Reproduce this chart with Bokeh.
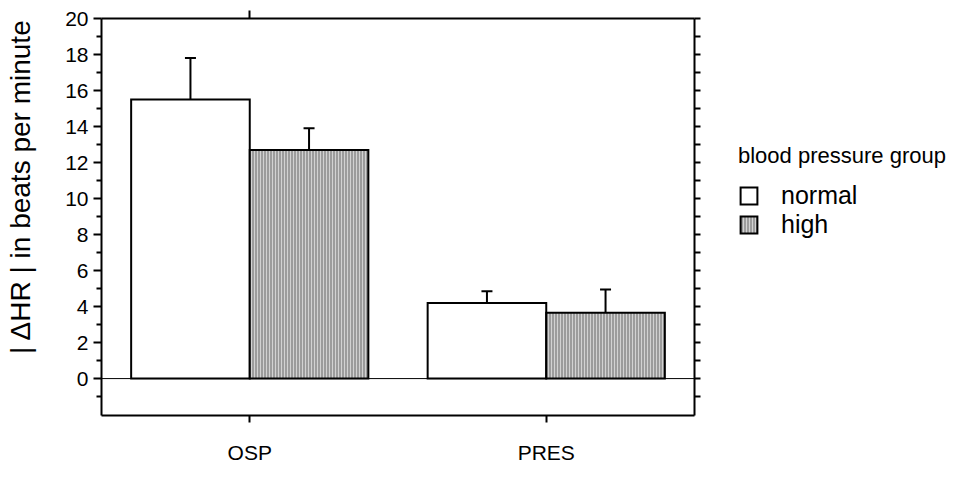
import math
from bokeh.plotting import figure
from bokeh.layouts import row
from bokeh.models import (ColumnDataSource, FixedTicker, LinearAxis, Range1d, Span,
                          Whisker, TeeHead, Legend, LegendItem, Label)
from bokeh.embed import file_html
from bokeh.resources import INLINE

# ---- data ----
categories = ["OSP", "PRES"]
cat_pos = [1, 2]
normal_mean = [15.5, 4.2]
normal_sem = [2.3, 0.65]
high_mean = [12.7, 3.65]
high_sem = [1.2, 1.3]
groups = ["normal", "high"]
y_major_ticks = [0, 2, 4, 6, 8, 10, 12, 14, 16, 18, 20]
y_minor_ticks = [-1, 1, 3, 5, 7, 9, 11, 13, 15, 17, 19]
right_ticks = [-1, 0, 1, 2, 3, 4, 5, 6, 7, 8, 9, 10, 11, 12, 13, 14, 15, 16, 17, 18, 19, 20]
y_title = "| ΔHR | in beats per minute"
legend_title = "blood pressure group"

FONT = "Liberation Sans"
BAR_W = 0.4
LBL_W = 45          # strip holding the y-axis title
MAIN_RIGHT = 714    # right edge of the main figure (page px)
TOTAL_W = 950
H = 466

normal_x = [c - BAR_W / 2 for c in cat_pos]
high_x = [c + BAR_W / 2 for c in cat_pos]

src_normal = ColumnDataSource(dict(x=normal_x, top=normal_mean,
                                   upper=[m + s for m, s in zip(normal_mean, normal_sem)]))
src_high = ColumnDataSource(dict(x=high_x, top=high_mean,
                                 upper=[m + s for m, s in zip(high_mean, high_sem)]))

normal_style = dict(fill_color="white", line_color="black", line_width=2, line_join="miter")
high_style = dict(fill_color="#9c9c9c", line_color="black", line_width=2, line_join="miter",
                  hatch_pattern="|", hatch_color="white", hatch_scale=3, hatch_weight=1,
                  hatch_alpha=0.55)


def bare_fig(width, xr, yr, **kw):
    f = figure(width=width, height=H, x_range=xr, y_range=yr,
               output_backend="svg", toolbar_location=None,
               x_axis_location=None, y_axis_location=None, **kw)
    f.outline_line_color = None
    f.grid.visible = False
    return f


# ---- y-axis title strip ----
lbl = bare_fig(LBL_W, Range1d(0, LBL_W), Range1d(H, 0),
               min_border_left=0, min_border_right=0, min_border_top=0, min_border_bottom=0)
lbl.add_layout(Label(x=20, y=197, text=y_title, angle=math.pi / 2,
                     text_align="center", text_baseline="middle",
                     text_font=FONT, text_font_size="28px", text_color="black"))

# ---- main plot ----
p = bare_fig(MAIN_RIGHT - LBL_W, Range1d(0.5, 2.5), Range1d(-2.05, 20),
             min_border_left=101 - LBL_W, min_border_right=MAIN_RIGHT - 694,
             min_border_top=18, min_border_bottom=H - 415)


def style_axis(ax):
    ax.axis_line_width = 2
    ax.axis_line_color = "black"
    ax.major_tick_line_width = 2
    ax.minor_tick_line_width = 2
    ax.major_tick_in = 0
    ax.minor_tick_in = 0
    ax.major_label_text_font = FONT
    ax.major_label_text_font_size = "21px"
    ax.major_label_text_color = "black"


def hide_labels(ax):
    ax.major_label_text_color = None
    ax.major_label_text_font_size = "1px"
    ax.major_label_standoff = 0
    ax.minor_tick_line_color = None


left = LinearAxis(ticker=FixedTicker(ticks=y_major_ticks, minor_ticks=y_minor_ticks))
style_axis(left)
left.major_tick_out = 8
left.minor_tick_out = 5
left.major_label_standoff = 5
p.add_layout(left, "left")

right = LinearAxis(ticker=FixedTicker(ticks=right_ticks))
style_axis(right)
right.major_tick_out = 6
hide_labels(right)
p.add_layout(right, "right")

bottom = LinearAxis(ticker=FixedTicker(ticks=cat_pos),
                    major_label_overrides={c: n for c, n in zip(cat_pos, categories)})
style_axis(bottom)
bottom.major_tick_out = 7
bottom.minor_tick_line_color = None
bottom.major_label_standoff = 18
p.add_layout(bottom, "below")

top = LinearAxis(ticker=FixedTicker(ticks=[cat_pos[0]]))
style_axis(top)
top.major_tick_out = 8
hide_labels(top)
p.add_layout(top, "above")

p.vbar(x="x", top="top", bottom=0, width=BAR_W, source=src_normal, **normal_style)
p.vbar(x="x", top="top", bottom=0, width=BAR_W, source=src_high, **high_style)

for src in (src_normal, src_high):
    p.add_layout(Whisker(base="x", lower="top", upper="upper", source=src,
                         dimension="height", line_color="black", line_width=2,
                         upper_head=TeeHead(size=11, line_width=2, line_color="black"),
                         lower_head=None, level="glyph"))

p.add_layout(Span(location=0, dimension="width", line_color="black", line_width=1))

# ---- legend strip to the right of the plot ----
# hidden copies of the bar renderers only supply the legend swatches
lg = bare_fig(TOTAL_W - MAIN_RIGHT, Range1d(0.5, 2.5), Range1d(-2.05, 20),
              min_border_left=0, min_border_right=0, min_border_top=0, min_border_bottom=0)
lg_normal = lg.vbar(x="x", top="top", bottom=0, width=BAR_W, source=src_normal,
                    visible=False, **normal_style)
lg_high = lg.vbar(x="x", top="top", bottom=0, width=BAR_W, source=src_high,
                  visible=False, **high_style)

legend = Legend(items=[LegendItem(label=groups[0], renderers=[lg_normal]),
                       LegendItem(label=groups[1], renderers=[lg_high])],
                title=legend_title, location=(738 - MAIN_RIGHT, H - 290),
                title_text_font=FONT, title_text_font_size="22px",
                title_text_font_style="normal", title_text_color="black",
                title_standoff=12,
                label_text_font=FONT, label_text_font_size="25px",
                label_text_color="black",
                label_standoff=22, glyph_width=21, glyph_height=21,
                padding=0, margin=0, spacing=0, label_height=27,
                inactive_fill_alpha=0,
                border_line_color=None, background_fill_alpha=0)
lg.add_layout(legend)

layout = row(lbl, p, lg, spacing=0)
open("out.html", "w").write(file_html(layout, INLINE))
